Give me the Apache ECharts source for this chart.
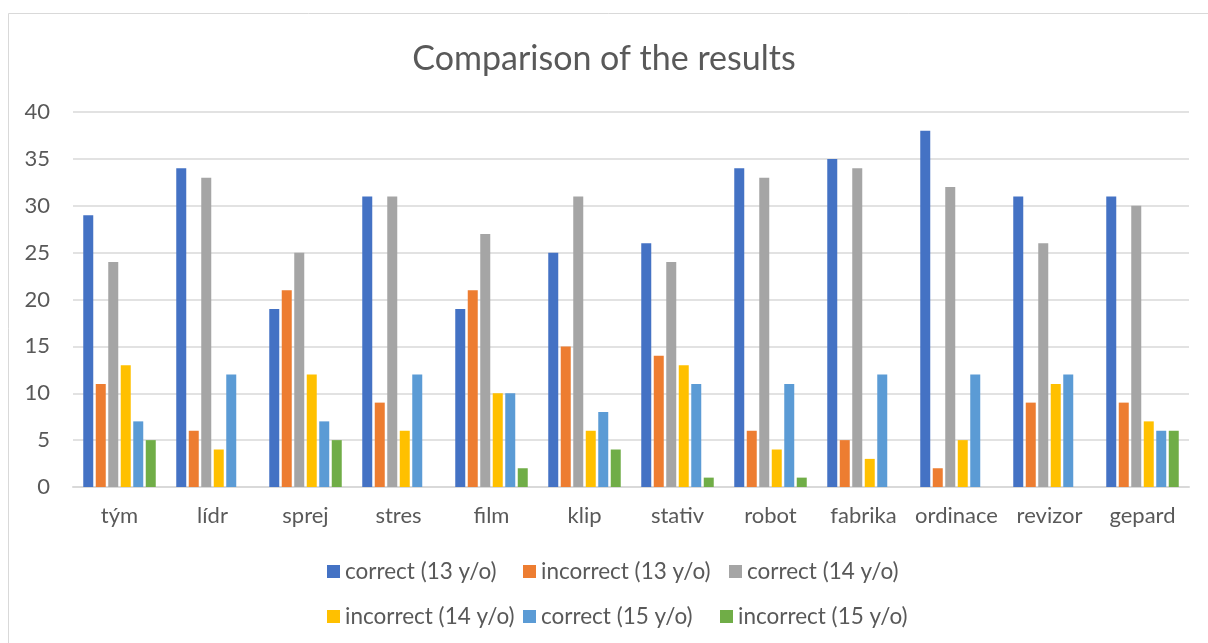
<!DOCTYPE html>
<html>
<head>
<meta charset="utf-8">
<script src="https://cdn.jsdelivr.net/npm/echarts@6/dist/echarts.min.js"></script>
<style>
html,body{margin:0;padding:0;background:#fff;}
#chart{width:1208px;height:643px;}
</style>
</head>
<body>
<div id="chart"></div>
<script>
const categories = ['tým','lídr','sprej','stres','film','klip','stativ','robot','fabrika','ordinace','revizor','gepard'];
const seriesNames = ['correct (13 y/o)','incorrect (13 y/o)','correct (14 y/o)','incorrect (14 y/o)','correct (15 y/o)','incorrect (15 y/o)'];
const correct13   = [29,34,19,31,19,25,26,34,35,38,31,31];
const incorrect13 = [11, 6,21, 9,21,15,14, 6, 5, 2, 9, 9];
const correct14   = [24,33,25,31,27,31,24,33,34,32,26,30];
const incorrect14 = [13, 4,12, 6,10, 6,13, 4, 3, 5,11, 7];
const correct15   = [ 7,12, 7,12,10, 8,11,11,12,12,12, 6];
const incorrect15 = [ 5, 0, 5, 0, 2, 4, 1, 1, 0, 0, 0, 6];
const yTicks = [0,5,10,15,20,25,30,35,40];

const colors = ['#4472C4','#ED7D31','#A5A5A5','#FFC000','#5B9BD5','#70AD47'];
const values = [correct13,incorrect13,correct14,incorrect14,correct15,incorrect15];
const FONT = 'Lato';
const TXT = '#595959';

const legendPos = [[327,560],[523,560],[729,560],[327,605],[523,605],[720,605]];
const legends = seriesNames.map((n,i)=>({
  data:[n], left:legendPos[i][0], top:legendPos[i][1],
  icon:'rect', itemWidth:13, itemHeight:13, padding:0,
  textStyle:{color:TXT, fontFamily:FONT, fontSize:22.5, lineHeight:23},
  selectedMode:false
}));

const chart = echarts.init(document.getElementById('chart'), null, {renderer:'canvas'});
chart.setOption({
  animation:false,
  backgroundColor:'#fff',
  title:{text:'Comparison of the results', left:'center', top:37,
    textStyle:{color:TXT, fontFamily:FONT, fontSize:34, fontWeight:'normal'}},
  graphic:[{type:'rect', shape:{x:8.5,y:13.5,width:1400,height:800},
    style:{fill:'none', stroke:'#D9D9D9', lineWidth:1}, silent:true}],
  legend:legends,
  grid:{left:73, right:19, top:112, bottom:156, containLabel:false},
  xAxis:{type:'category', data:categories,
    axisLine:{lineStyle:{color:'#D9D9D9', width:2}},
    axisTick:{show:false},
    axisLabel:{color:TXT, fontFamily:FONT, fontSize:22, margin:18, interval:0}},
  yAxis:{type:'value', min:yTicks[0], max:yTicks[yTicks.length-1], interval:yTicks[1]-yTicks[0],
    axisLine:{show:false}, axisTick:{show:false},
    splitLine:{lineStyle:{color:'#D9D9D9', width:1.5}},
    axisLabel:{color:TXT, fontFamily:FONT, fontSize:22, margin:23}},
  series:seriesNames.map((n,i)=>({
    name:n, type:'bar', data:values[i], barWidth:10, barGap:'25%',
    itemStyle:{color:colors[i]}
  }))
});
</script>
</body>
</html>
